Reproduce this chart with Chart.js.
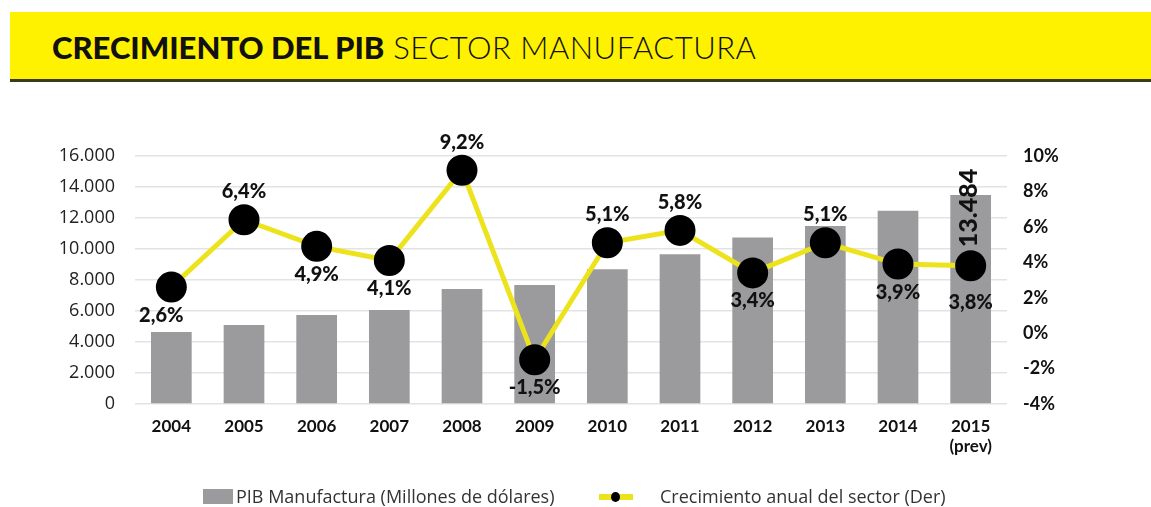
<!DOCTYPE html>
<html>
<head>
<meta charset="utf-8">
<script src="https://cdn.jsdelivr.net/npm/chart.js@4"></script>
<style>
  body { margin: 0; width: 1151px; height: 507px; background: #fff; position: relative; overflow: hidden; font-family: 'Lato', 'Open Sans', sans-serif; }
  #banner { position: absolute; left: 10px; top: 12px; width: 1141px; height: 67px; background: #fff200; border-bottom: 3px solid #3a3a20; }
  #banner h1 { position: absolute; left: 42px; top: 19px; margin: 0; font-size: 31px; line-height: 32px; color: #111; font-weight: 300; letter-spacing: 0.5px; white-space: nowrap; }
  #banner h1 b { font-weight: 900; letter-spacing: 0px; }
  #chartWrap { position: absolute; left: 0; top: 0; }
  .legend { position: absolute; top: 484px; font-size: 18px; color: #333; font-family: 'Open Sans', sans-serif; white-space: nowrap; }
  .sq { position: absolute; left: 203px; top: 489px; width: 30px; height: 15px; background: #9b9b9e; }
  .ln { position: absolute; left: 599px; top: 494px; width: 34px; height: 6px; background: #ede31c; }
  .dot { position: absolute; left: 611px; top: 492px; width: 9px; height: 10px; border-radius: 50%; background: #000; }
</style>
</head>
<body>
<div id="banner"><h1><b>CRECIMIENTO DEL PIB</b> SECTOR MANUFACTURA</h1></div>
<div id="chartWrap"><canvas id="pib" width="1151" height="507"></canvas></div>
<div class="sq"></div><div class="legend" style="left:236px">PIB Manufactura (Millones de dólares)</div>
<div class="ln"></div><div class="dot"></div><div class="legend" style="left:660px">Crecimiento anual del sector (Der)</div>
<script>
const years = ['2004', '2005', '2006', '2007', '2008', '2009', '2010', '2011', '2012', '2013', '2014', ['2015', '(prev)']];
const pibManufactura = [4650, 5100, 5750, 6060, 7420, 7680, 8690, 9660, 10750, 11480, 12470, 13484];
const crecimiento = [2.6, 6.4, 4.9, 4.1, 9.2, -1.5, 5.1, 5.8, 3.4, 5.1, 3.9, 3.8];
const labelSide = [1, -1, 1, 1, -1, 1, -1, -1, 1, -1, 1, 1.3];

function miles(v) {
  return String(v).replace(/\B(?=(\d{3})+(?!\d))/g, '.');
}

const etiquetas = {
  id: 'etiquetas',
  afterDatasetsDraw(chart) {
    const ctx = chart.ctx;
    const linea = chart.getDatasetMeta(1);
    ctx.save();
    ctx.fillStyle = '#111';
    ctx.font = '900 20px "Lato", "Open Sans", sans-serif';
    ctx.textAlign = 'center';
    ctx.textBaseline = 'middle';
    linea.data.forEach(function(pt, i) {
      const txt = crecimiento[i].toFixed(1).replace('.', ',') + '%';
      const dx = i === 0 ? -10 : 0;
      ctx.fillText(txt, pt.x + dx, pt.y + labelSide[i] * 28);
    });
    // valor 2015 en vertical
    const barras = chart.getDatasetMeta(0);
    const ultima = barras.data[barras.data.length - 1];
    ctx.translate(ultima.x - 2, ultima.y + 13);
    ctx.rotate(-Math.PI / 2);
    ctx.font = '900 25px "Lato", "Open Sans", sans-serif';
    ctx.fillText(miles(pibManufactura[pibManufactura.length - 1]), 0, 0);
    ctx.restore();
  }
};

new Chart(document.getElementById('pib').getContext('2d'), {
  data: {
    labels: years,
    datasets: [{
      type: 'bar',
      label: 'PIB Manufactura (Millones de dólares)',
      data: pibManufactura,
      backgroundColor: '#9b9b9e',
      categoryPercentage: 1,
      barPercentage: 0.56,
      yAxisID: 'y',
      order: 2
    }, {
      type: 'line',
      label: 'Crecimiento anual del sector (Der)',
      data: crecimiento,
      borderColor: '#ede31c',
      borderWidth: 5,
      pointRadius: 13,
      pointBackgroundColor: '#000',
      pointBorderColor: '#000',
      tension: 0,
      clip: false,
      yAxisID: 'y1',
      order: 1
    }]
  },
  options: {
    responsive: false,
    animation: false,
    layout: { padding: { top: 156, left: 0, right: 0, bottom: 0 } },
    plugins: { legend: { display: false }, tooltip: { enabled: false } },
    scales: {
      x: {
        grid: { display: false, drawTicks: false },
        border: { display: false },
        ticks: { color: '#111', font: { size: 17, weight: 'bold', family: 'Lato, "Open Sans", sans-serif' }, padding: 12, maxRotation: 0 },
        afterFit(s) { s.height = 103; }
      },
      y: {
        position: 'left',
        min: 0, max: 16000,
        ticks: { stepSize: 2000, color: '#222', padding: 20, font: { size: 18, family: '"Open Sans", sans-serif' }, callback: v => miles(v) },
        grid: { color: '#e3e3e3', lineWidth: 1.5, drawTicks: false },
        border: { display: false },
        afterFit(s) { s.width = 135; }
      },
      y1: {
        position: 'right',
        min: -4, max: 10,
        ticks: { stepSize: 2, color: '#111', padding: 16, font: { size: 18, weight: 'bold', family: 'Lato, "Open Sans", sans-serif' }, callback: v => v + '%' },
        grid: { display: false, drawTicks: false },
        border: { display: false },
        afterFit(s) { s.width = 144; }
      }
    }
  },
  plugins: [etiquetas]
});
</script>
</body>
</html>
